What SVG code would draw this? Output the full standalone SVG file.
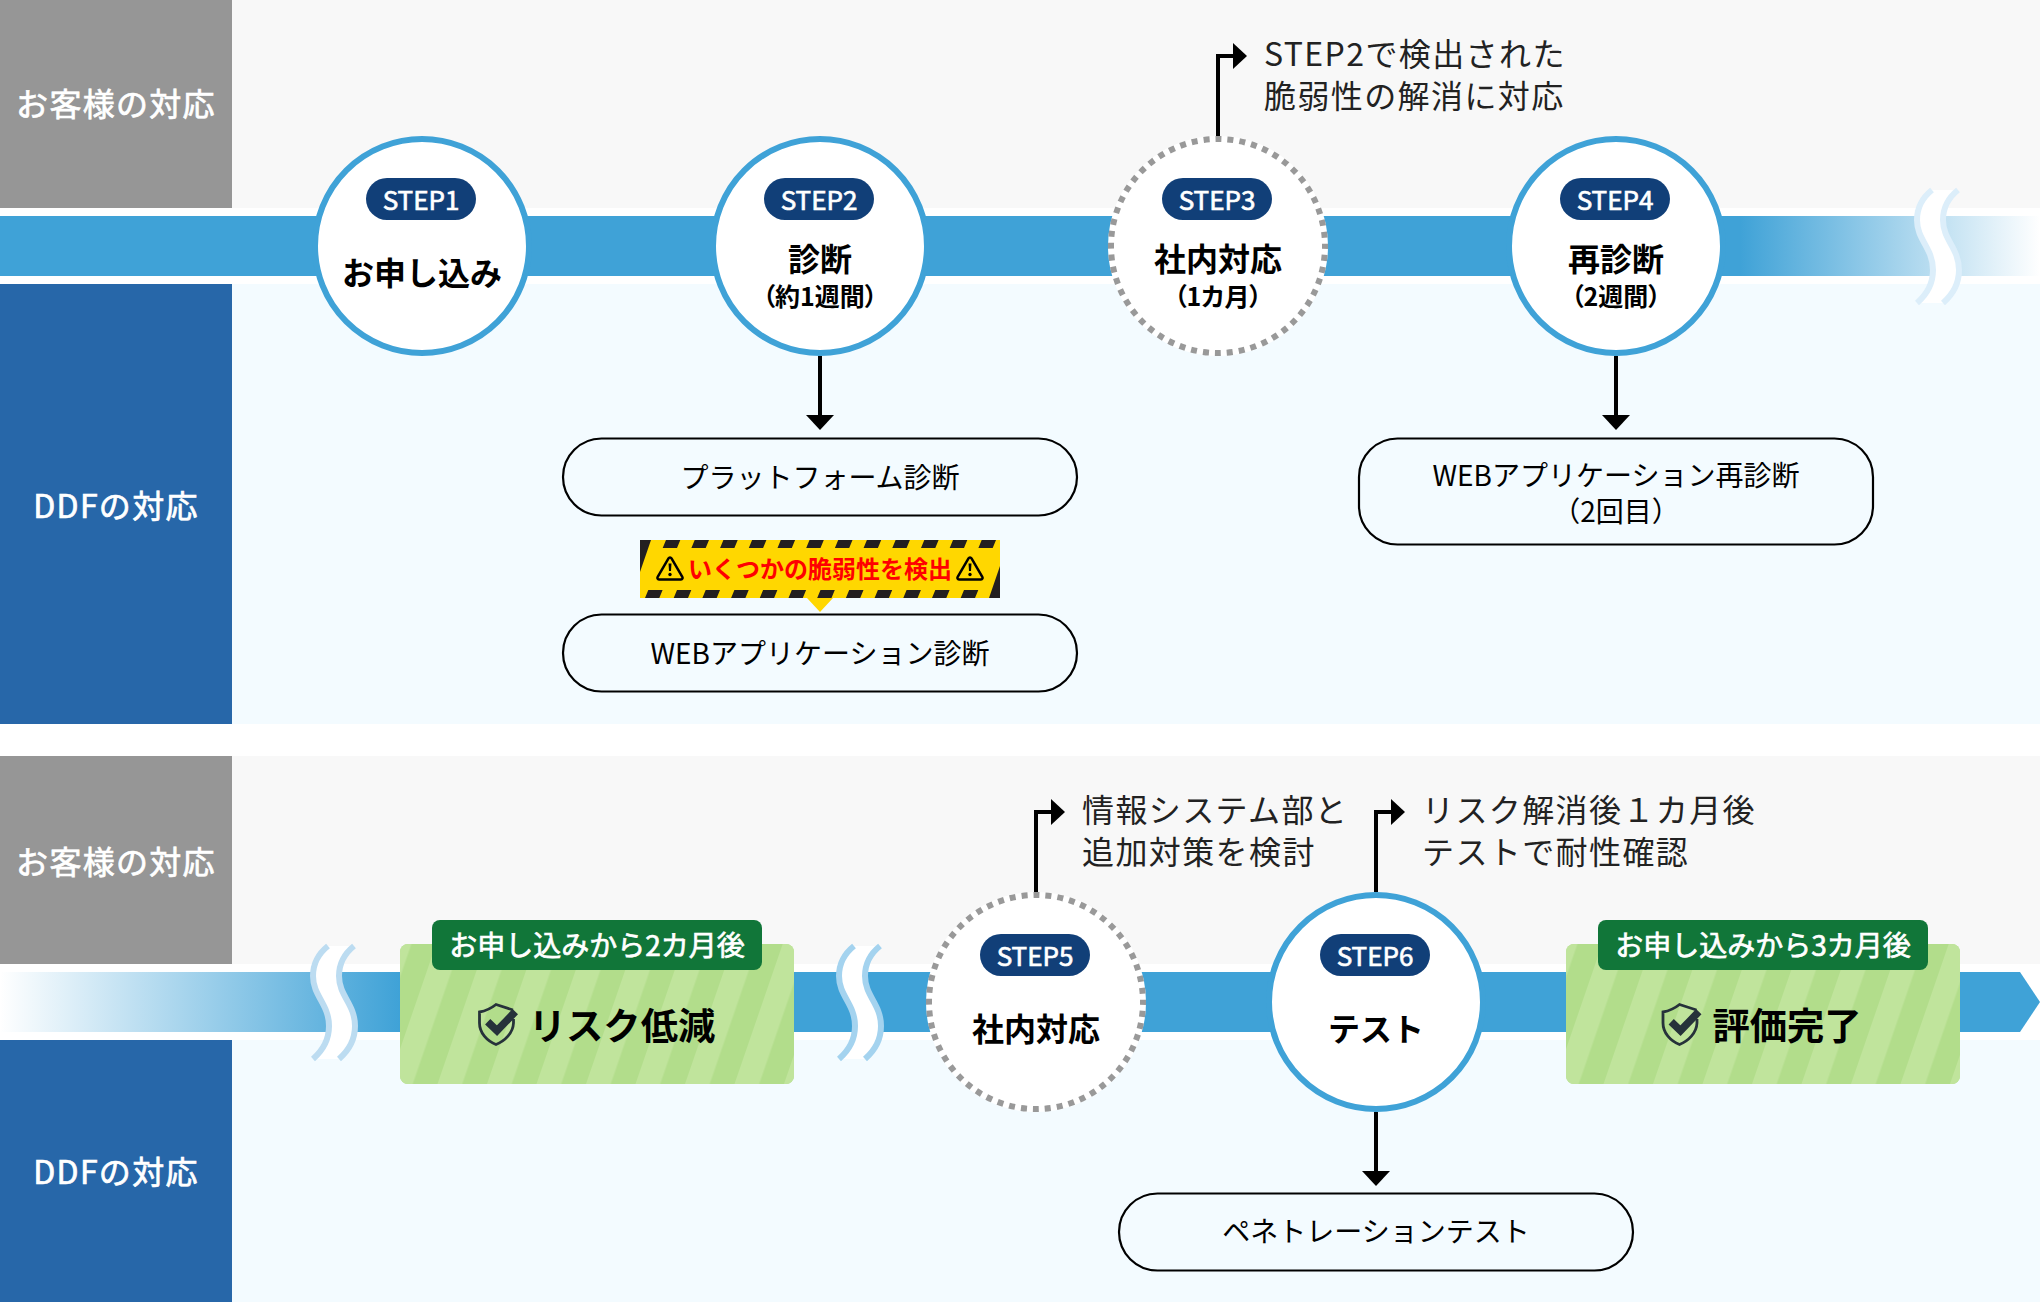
<svg xmlns="http://www.w3.org/2000/svg" xmlns:xlink="http://www.w3.org/1999/xlink" width="2040" height="1302" viewBox="0 0 2040 1302">
<style>
text{font-family:"Noto Sans CJK JP","Noto Sans",sans-serif;text-anchor:middle;fill:#000}
.lane{font-size:32px;fill:#fff;stroke:#fff;stroke-width:.7px;letter-spacing:1.3px}
.pill{fill:#113f78}
.step{font-size:26px;fill:#fff;stroke:#fff;stroke-width:.7px}
.t{font-size:32px;font-weight:700}
.s{font-size:25px;font-weight:700;font-feature-settings:"palt"}
.solid{fill:#fff;stroke:#3fa2d7;stroke-width:6}
.halo{fill:#fff}
.dash{fill:none;stroke:#999;stroke-width:6;stroke-dasharray:6 6.005;stroke-dashoffset:3}
.note{font-size:32px;text-anchor:start;letter-spacing:1.4px;fill:#222}
.box{fill:#f3fbff;stroke:#000;stroke-width:2.200}
.bt{font-size:28px}
.lab{fill:#117639}
.labt{font-size:28px;fill:#fff;stroke:#fff;stroke-width:.7px}
.big{font-size:37.300px;font-weight:700}
.line{fill:none;stroke:#000;stroke-width:4}
.tape{fill:#231f20}
</style>
<defs>
<linearGradient id="fadeR" gradientUnits="userSpaceOnUse" x1="1740" y1="0" x2="2040" y2="0"><stop offset="0" stop-color="#3fa2d7"/><stop offset="1" stop-color="#3fa2d7" stop-opacity="0"/></linearGradient>
<linearGradient id="fadeL" gradientUnits="userSpaceOnUse" x1="0" y1="0" x2="400" y2="0"><stop offset="0" stop-color="#3fa2d7" stop-opacity="0"/><stop offset="1" stop-color="#3fa2d7"/></linearGradient>
<pattern id="st1" patternUnits="userSpaceOnUse" width="46.800" height="47" patternTransform="translate(437.500,1084) rotate(19)"><rect width="23.400" height="47" fill="#c0e49c"/></pattern>
<pattern id="st2" patternUnits="userSpaceOnUse" width="46.800" height="47" patternTransform="translate(1603.500,1084) rotate(19)"><rect width="23.400" height="47" fill="#c0e49c"/></pattern>
<marker id="headR" markerUnits="userSpaceOnUse" viewBox="0 0 14 26" refX="0" refY="13" markerWidth="14" markerHeight="26" orient="auto"><path d="M0 0L14 13L0 26Z"/></marker>
<marker id="headD" markerUnits="userSpaceOnUse" viewBox="0 0 15 28" refX="0" refY="14" markerWidth="15" markerHeight="28" orient="auto"><path d="M0 0L15 14L0 28Z"/></marker>
<g id="brk">
<path d="M15 0C5 8 0 18 0 30C0 50 16 58 16 80C16 95 8 106 0 113L26 113C34 106 42 95 42 80C42 58 26 50 26 30C26 18 31 8 41 0Z" fill="#fff" stroke="none"/>
<path d="M15 0C5 8 0 18 0 30C0 50 16 58 16 80C16 95 8 106 0 113M41 0C31 8 26 18 26 30C26 50 42 58 42 80C42 95 34 106 26 113" fill="none" stroke-width="6"/>
</g>
<g id="shield">
<path d="M512 1010L495 1004.500C490 1008.500 484 1011 478.500 1012V1023C478.500 1033 486 1041 495 1044.500C504 1041 512 1033 512.500 1023V1019" fill="none" stroke="#26323a" stroke-width="2.800"/>
<path d="M486.700 1021.700L496 1030.700L514.300 1011.700" fill="none" stroke="#26323a" stroke-width="7.500"/>
</g>
<g id="warn">
<path d="M-11 11.500H11C12.500 11.500 13 10 12.300 8.800L1.500-9.700C.8-10.900-.8-10.900-1.500-9.700L-12.300 8.800C-13 10-12.500 11.500-11 11.500Z" fill="none" stroke="#000" stroke-width="2.500"/>
<path d="M-1.500-4.500H1.500L1 3H-1Z"/><circle cx="0" cy="6.500" r="1.700"/>
</g>
</defs>

<g id="background">
<rect width="2040" height="1302" fill="#fff"/>
<rect x="232" y="0" width="1808" height="208" fill="#f8f8f8"/>
<rect x="232" y="284" width="1808" height="440" fill="#f3fbff"/>
<rect x="232" y="756" width="1808" height="208" fill="#f8f8f8"/>
<rect x="232" y="1040" width="1808" height="262" fill="#f3fbff"/>
</g>

<g id="lane-customer-1"><rect x="0" y="0" width="232" height="208" fill="#969696"/><text class="lane" x="116" y="116">お客様の対応</text></g>
<g id="lane-ddf-1"><rect x="0" y="284" width="232" height="440" fill="#2767a9"/><text class="lane" x="116" y="518">DDFの対応</text></g>
<g id="lane-customer-2"><rect x="0" y="756" width="232" height="208" fill="#969696"/><text class="lane" x="116" y="874">お客様の対応</text></g>
<g id="lane-ddf-2"><rect x="0" y="1040" width="232" height="262" fill="#2767a9"/><text class="lane" x="116" y="1184">DDFの対応</text></g>

<g id="timeline">
<rect x="0" y="216" width="1740" height="60" fill="#3fa2d7"/>
<rect x="1740" y="216" width="300" height="60" fill="url(#fadeR)"/>
<rect x="0" y="972" width="400" height="60" fill="url(#fadeL)"/>
<path d="M400 972H2020L2040 1002L2020 1032H400Z" fill="#3fa2d7"/>
<use xlink:href="#brk" href="#brk" transform="translate(1917 190)" stroke="#dceefa"/>
<use xlink:href="#brk" href="#brk" transform="translate(313 946)" stroke="#bcdcf1"/>
<use xlink:href="#brk" href="#brk" transform="translate(839 946)" stroke="#a4d3ef"/>
</g>

<g id="connectors">
<path class="line" d="M820 356V415" marker-end="url(#headD)"/>
<path class="line" d="M1616 356V415" marker-end="url(#headD)"/>
<path class="line" d="M1376 1112V1171" marker-end="url(#headD)"/>
<path class="line" d="M1218 136V56H1233" marker-end="url(#headR)"/>
<path class="line" d="M1036 892V812H1051" marker-end="url(#headR)"/>
<path class="line" d="M1376 892V812H1391" marker-end="url(#headR)"/>
</g>

<g id="step1"><circle class="solid" cx="422" cy="246" r="107"/><rect class="pill" x="366" y="178" width="110" height="42" rx="21"/><text class="step" x="421" y="210">STEP1</text><text class="t" x="422" y="285">お申し込み</text></g>
<g id="step2"><circle class="solid" cx="820" cy="246" r="107"/><rect class="pill" x="764" y="178" width="110" height="42" rx="21"/><text class="step" x="819" y="210">STEP2</text><text class="t" x="820" y="271">診断</text><text class="s" x="820" y="306">（約1週間）</text></g>
<g id="step3"><circle class="halo" cx="1218" cy="246" r="110"/><circle class="dash" cx="1218" cy="246" r="107"/><rect class="pill" x="1162" y="178" width="110" height="42" rx="21"/><text class="step" x="1217" y="210">STEP3</text><text class="t" x="1218" y="271">社内対応</text><text class="s" x="1218" y="306">（1カ月）</text></g>
<g id="step4"><circle class="solid" cx="1616" cy="246" r="107"/><rect class="pill" x="1560" y="178" width="110" height="42" rx="21"/><text class="step" x="1615" y="210">STEP4</text><text class="t" x="1616" y="271">再診断</text><text class="s" x="1616" y="306">（2週間）</text></g>
<g id="step5"><circle class="halo" cx="1036" cy="1002" r="110"/><circle class="dash" cx="1036" cy="1002" r="107"/><rect class="pill" x="980" y="934" width="110" height="42" rx="21"/><text class="step" x="1035" y="966">STEP5</text><text class="t" x="1036" y="1041">社内対応</text></g>
<g id="step6"><circle class="solid" cx="1376" cy="1002" r="107"/><rect class="pill" x="1320" y="934" width="110" height="42" rx="21"/><text class="step" x="1375" y="966">STEP6</text><text class="t" x="1376" y="1041">テスト</text></g>

<g id="note-step3"><text class="note" x="1264" y="66">STEP2で検出された</text><text class="note" x="1264" y="108">脆弱性の解消に対応</text></g>
<g id="note-step5"><text class="note" x="1082" y="822">情報システム部と</text><text class="note" x="1082" y="864">追加対策を検討</text></g>
<g id="note-step6"><text class="note" x="1422" y="822">リスク解消後１カ月後</text><text class="note" x="1422" y="864">テストで耐性確認</text></g>

<g id="box-platform"><rect class="box" x="563" y="438.500" width="514" height="77" rx="38.500"/><text class="bt" x="820" y="488">プラットフォーム診断</text></g>
<g id="box-web"><rect class="box" x="563" y="614.500" width="514" height="77" rx="38.500"/><text class="bt" x="820" y="664">WEBアプリケーション診断</text></g>
<g id="box-recheck"><rect class="box" x="1359" y="438.500" width="514" height="106" rx="38.500"/><text class="bt" x="1616" y="486">WEBアプリケーション再診断</text><text class="bt" x="1616" y="522">（2回目）</text></g>
<g id="box-pentest"><rect class="box" x="1119" y="1193.500" width="514" height="77" rx="38.500"/><text class="bt" x="1376" y="1242">ペネトレーションテスト</text></g>

<g id="warning">
<path d="M640 540H1000V598H833L820 612L807 598H640Z" fill="#ffd700"/>
<path class="tape" d="M640 540H651L640 572ZM1000 598H989L1000 566Z"/>
<path class="tape" d="M662.700 548L666 540H680.300L677 548ZM691.400 548L694.700 540H709L705.700 548ZM720.100 548L723.400 540H737.700L734.400 548ZM748.800 548L752.100 540H766.400L763.100 548ZM777.500 548L780.800 540H795.100L791.800 548ZM806.200 548L809.500 540H823.800L820.500 548ZM834.900 548L838.200 540H852.500L849.200 548ZM863.600 548L866.900 540H881.200L877.900 548ZM892.300 548L895.600 540H909.900L906.600 548ZM921 548L924.300 540H938.600L935.300 548ZM949.700 548L953 540H967.300L964 548ZM978.400 548L981.700 540H996L992.700 548Z"/>
<path class="tape" d="M645 598L648.300 590H662.600L659.300 598ZM673.700 598L677 590H691.300L688 598ZM702.400 598L705.700 590H720L716.700 598ZM731.100 598L734.400 590H748.700L745.400 598ZM759.800 598L763.100 590H777.400L774.100 598ZM788.500 598L791.800 590H806.100L802.800 598ZM817.200 598L820.500 590H834.800L831.500 598ZM845.900 598L849.200 590H863.500L860.200 598ZM874.600 598L877.900 590H892.200L888.900 598ZM903.300 598L906.600 590H920.900L917.600 598ZM932 598L935.300 590H949.600L946.300 598ZM960.700 598L964 590H978.300L975 598Z"/>
<use xlink:href="#warn" href="#warn" x="670" y="568"/>
<use xlink:href="#warn" href="#warn" x="970" y="568"/>
<text x="820" y="578" font-size="24" font-weight="700" style="fill:#f00">いくつかの脆弱性を検出</text>
</g>

<g id="result-1">
<rect x="400" y="944" width="394" height="140" rx="8" fill="#b2dd8b"/><rect x="400" y="944" width="394" height="140" rx="8" fill="url(#st1)"/>
<rect class="lab" x="432" y="920" width="330" height="50" rx="8"/><text class="labt" x="597" y="956">お申し込みから2カ月後</text>
<use xlink:href="#shield" href="#shield" transform="translate(1 0)"/><text class="big" x="622" y="1040">リスク低減</text>
</g>
<g id="result-2">
<rect x="1566" y="944" width="394" height="140" rx="8" fill="#b2dd8b"/><rect x="1566" y="944" width="394" height="140" rx="8" fill="url(#st2)"/>
<rect class="lab" x="1598" y="920" width="330" height="50" rx="8"/><text class="labt" x="1763" y="956">お申し込みから3カ月後</text>
<use xlink:href="#shield" href="#shield" transform="translate(1184.500 0)"/><text class="big" x="1787" y="1040">評価完了</text>
</g>
</svg>
